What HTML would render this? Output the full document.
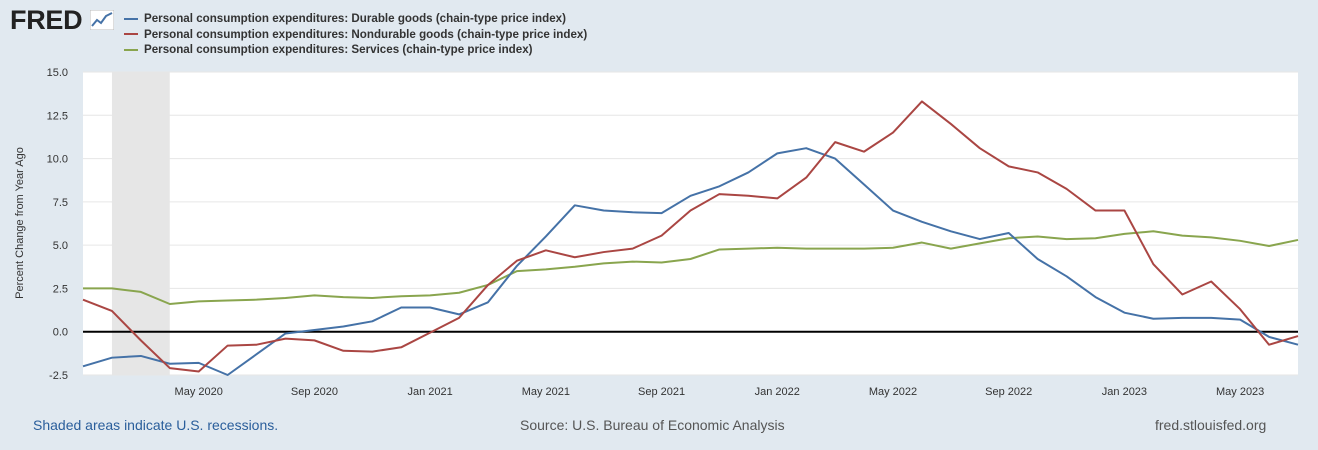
<!DOCTYPE html>
<html><head><meta charset="utf-8"><style>
body{margin:0;width:1318px;height:450px;background:#e1e9f0;font-family:"Liberation Sans",sans-serif;overflow:hidden;position:relative}
.t{position:absolute;white-space:nowrap}
</style></head><body>
<div class="t" style="left:10px;top:5px;font-size:27px;font-weight:bold;color:#222;letter-spacing:-0.3px">FRED</div>
<svg style="position:absolute;left:90px;top:10px" width="24" height="20"><rect width="24" height="20" fill="#fff" stroke="#bbb"/><polyline points="2,16 7,10 11,13 16,6 22,3" fill="none" stroke="#4572a7" stroke-width="2"/></svg>
<div style="position:absolute;left:124px;top:11px;font-size:11.6px;font-weight:bold;color:#333;line-height:15.5px">
<div><span style="display:inline-block;width:14px;height:2px;background:#4572a7;vertical-align:middle;margin-right:6px"></span>Personal consumption expenditures: Durable goods (chain-type price index)</div>
<div><span style="display:inline-block;width:14px;height:2px;background:#aa4643;vertical-align:middle;margin-right:6px"></span>Personal consumption expenditures: Nondurable goods (chain-type price index)</div>
<div><span style="display:inline-block;width:14px;height:2px;background:#89a54e;vertical-align:middle;margin-right:6px"></span>Personal consumption expenditures: Services (chain-type price index)</div>
</div>
<svg id="chart" width="1318" height="450" style="position:absolute;left:0;top:0"></svg>
<div class="t" style="left:33px;top:417px;font-size:14px;color:#2a5e9b">Shaded areas indicate U.S. recessions.</div>
<div class="t" style="left:520px;top:417px;font-size:14px;color:#555">Source: U.S. Bureau of Economic Analysis</div>
<div class="t" style="left:1155px;top:417px;font-size:14px;color:#555">fred.stlouisfed.org</div>
<script>
const durable=[-2.0,-1.5,-1.4,-1.85,-1.8,-2.5,-1.3,-0.1,0.1,0.3,0.6,1.4,1.4,1.0,1.7,3.8,5.5,7.3,7.0,6.9,6.85,7.85,8.4,9.2,10.3,10.6,10.0,8.5,7.0,6.35,5.8,5.35,5.7,4.2,3.2,2.0,1.1,0.75,0.8,0.8,0.7,-0.3,-0.75];
const nondurable=[1.85,1.2,-0.5,-2.1,-2.3,-0.8,-0.75,-0.4,-0.5,-1.1,-1.15,-0.9,-0.05,0.8,2.7,4.1,4.7,4.3,4.6,4.8,5.55,7.0,7.95,7.85,7.7,8.9,10.95,10.4,11.5,13.3,12.0,10.6,9.55,9.2,8.25,7.0,7.0,3.9,2.15,2.9,1.3,-0.75,-0.25];
const services=[2.5,2.5,2.3,1.6,1.75,1.8,1.85,1.95,2.1,2.0,1.95,2.05,2.1,2.25,2.7,3.5,3.6,3.75,3.95,4.05,4.0,4.2,4.75,4.8,4.85,4.8,4.8,4.8,4.85,5.15,4.8,5.1,5.4,5.5,5.35,5.4,5.65,5.8,5.55,5.45,5.25,4.95,5.3];
const yTicks=[-2.5,0,2.5,5,7.5,10,12.5,15];
const xLabels=["May 2020","Sep 2020","Jan 2021","May 2021","Sep 2021","Jan 2022","May 2022","Sep 2022","Jan 2023","May 2023"];
const xLabelIdx=[4,8,12,16,20,24,28,32,36,40];
const recession=[1,3];
const L=83,R=1298,T=72,B=375,n=durable.length;
const x=i=>L+(R-L)*i/(n-1);
const y=v=>B-(v+2.5)/17.5*(B-T);
const s=document.getElementById('chart');const NS='http://www.w3.org/2000/svg';
function mk(t,a){const e=document.createElementNS(NS,t);for(const k in a)e.setAttribute(k,a[k]);s.appendChild(e);return e;}
let e=mk('rect',{x:L,y:T,width:R-L,height:B-T,fill:'#fff'});


e=mk('rect',{x:x(recession[0]),y:T,width:x(recession[1])-x(recession[0]),height:B-T,fill:'#e6e6e6'});


yTicks.forEach(v=>{
 e=mk('line',{x1:L,x2:R,y1:y(v),y2:y(v),stroke:v===0?'#000':'#e6e6e6','stroke-width':v===0?2:1});
 
 
 e=mk('text',{x:68,y:y(v)+4,'text-anchor':'end','font-size':11,fill:'#333','font-family':'Liberation Sans'});e.textContent=v.toFixed(1);
 
 
});
xLabels.forEach((t,k)=>{
 e=mk('text',{x:x(xLabelIdx[k]),y:395,'text-anchor':'middle','font-size':11,fill:'#333','font-family':'Liberation Sans'});e.textContent=t;
 
 
});
e=mk('text',{transform:'translate(23,223) rotate(-90)','text-anchor':'middle','font-size':11,fill:'#333','font-family':'Liberation Sans'});e.textContent='Percent Change from Year Ago';


[[services,'#89a54e','line-services'],[durable,'#4572a7','line-durable'],[nondurable,'#aa4643','line-nondurable']].forEach(([d,c,nm])=>{
 e=mk('polyline',{points:d.map((v,i)=>x(i)+','+y(v)).join(' '),fill:'none',stroke:c,'stroke-width':2,'stroke-linejoin':'round'});
 
 
});
</script>
</body></html>
